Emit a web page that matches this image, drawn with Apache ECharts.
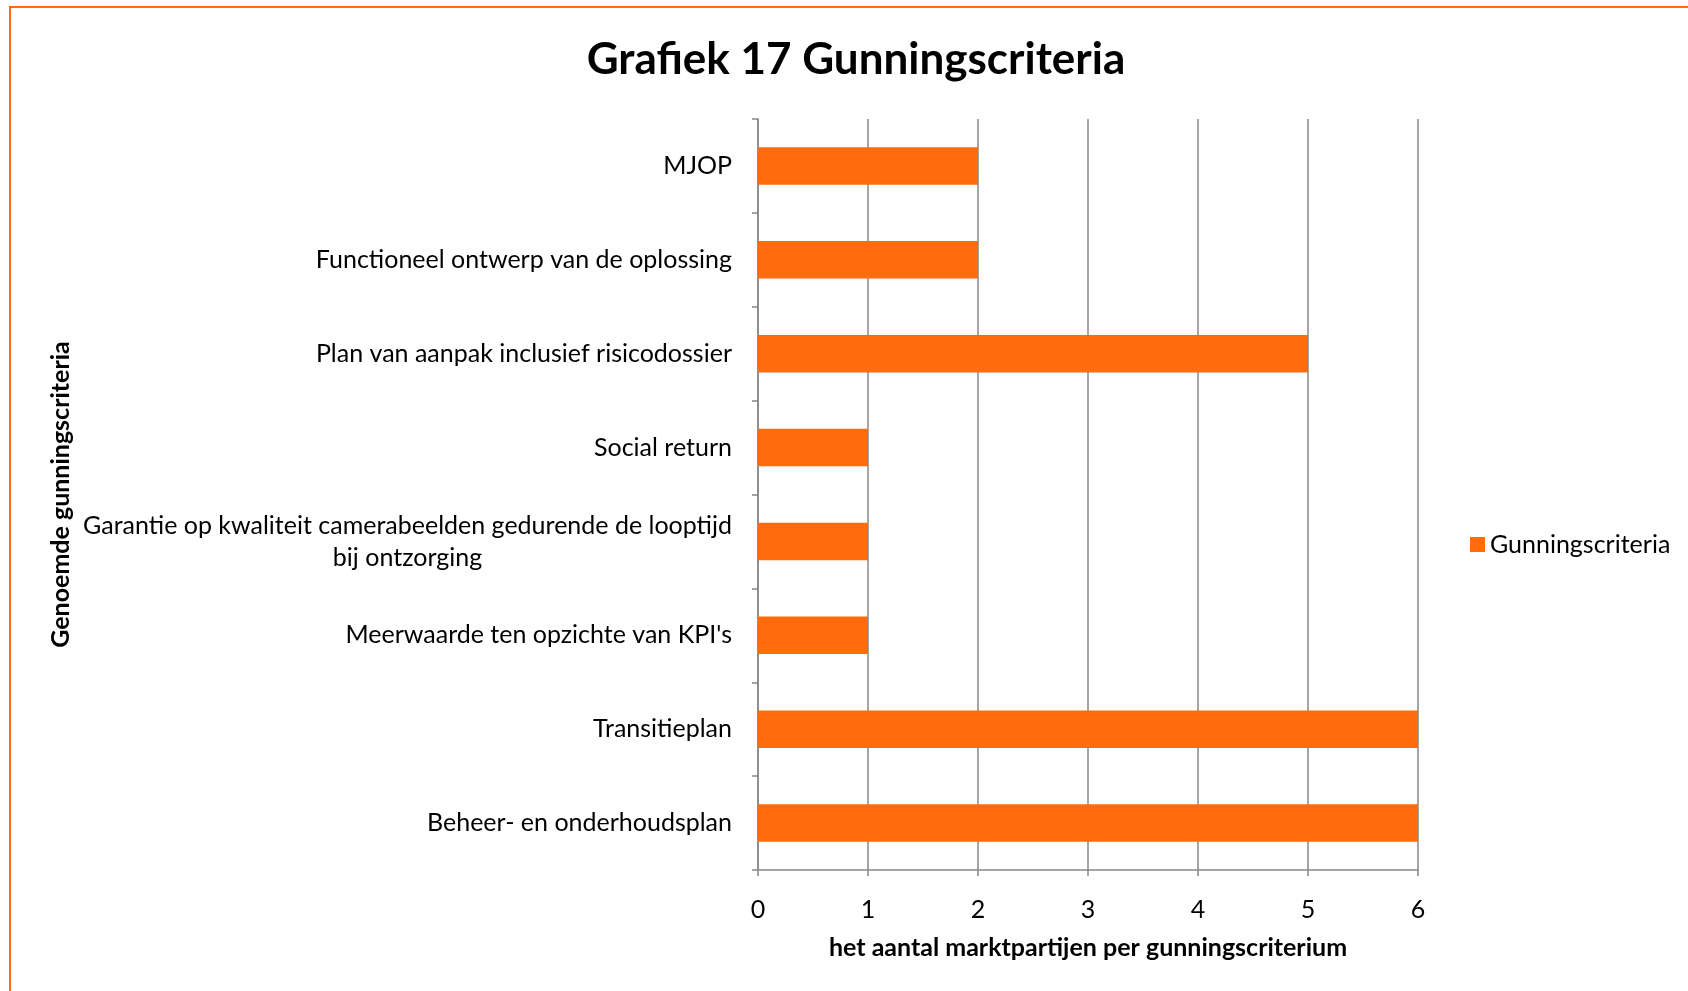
<!DOCTYPE html>
<html>
<head>
<meta charset="utf-8">
<title>Grafiek 17 Gunningscriteria</title>
<script src="https://cdn.jsdelivr.net/npm/echarts@6/dist/echarts.min.js"></script>
<style>
html, body { margin: 0; padding: 0; background: #fff; }
#chart { width: 1688px; height: 991px; }
</style>
</head>
<body>
<div id="chart"></div>
<script>
// categories listed top to bottom as in the chart
const categories = [
    'MJOP',
    'Functioneel ontwerp van de oplossing',
    'Plan van aanpak inclusief risicodossier',
    'Social return',
    'Garantie op kwaliteit camerabeelden gedurende de looptijd\nbij ontzorging',
    "Meerwaarde ten opzichte van KPI's",
    'Transitieplan',
    'Beheer- en onderhoudsplan'
]
const counts = [2, 2, 5, 1, 1, 1, 6, 6]
const seriesName = 'Gunningscriteria'

const orange = '#FF6B0D'
const gray = '#888888'
const font = 'Lato, "Open Sans", sans-serif'

const chart = echarts.init(document.getElementById('chart'))
chart.setOption({
    animation: false,
    textStyle: { fontFamily: font, color: '#000' },
    title: {
        text: 'Grafiek 17 Gunningscriteria',
        left: 851,
        textAlign: 'center',
        top: 33,
        textStyle: { fontFamily: font, fontSize: 44, fontWeight: 'bold', color: '#000' }
    },
    graphic: [{
        type: 'rect',
        shape: { x: 10, y: 7, width: 1700, height: 1000 },
        style: { fill: 'none', stroke: orange, lineWidth: 2 },
        silent: true
    }],
    legend: {
        data: [seriesName],
        left: 1465,
        top: 527,
        icon: 'rect',
        itemWidth: 15,
        itemHeight: 15,
        textStyle: { fontFamily: font, fontSize: 25, color: '#000' }
    },
    grid: {
        left: 758,
        right: 270,
        top: 119,
        bottom: 121,
        containLabel: false
    },
    xAxis: {
        type: 'value',
        min: 0,
        max: 6,
        interval: 1,
        name: 'het aantal marktpartijen per gunningscriterium',
        nameLocation: 'middle',
        nameGap: 65,
        nameTextStyle: { fontFamily: font, fontSize: 25, fontWeight: 'bold', color: '#000' },
        axisLine: { show: true, lineStyle: { color: gray, width: 1.5 } },
        axisTick: { show: true, length: 6, lineStyle: { color: gray, width: 1.5 } },
        axisLabel: { margin: 27, fontFamily: font, fontSize: 25, color: '#000' },
        splitLine: { show: true, lineStyle: { color: gray, width: 1.5 } }
    },
    yAxis: {
        type: 'category',
        data: categories,
        inverse: true,
        name: 'Genoemde gunningscriteria',
        nameLocation: 'middle',
        nameGap: 685,
        nameTextStyle: { fontFamily: font, fontSize: 25, fontWeight: 'bold', color: '#000' },
        axisLine: { show: true, lineStyle: { color: gray, width: 1.5 } },
        axisTick: { show: true, length: 6, lineStyle: { color: gray, width: 1.5 } },
        axisLabel: {
            margin: 26,
            fontFamily: font,
            fontSize: 25,
            color: '#000',
            lineHeight: 32,
            // multi-line labels are centred line by line
            formatter: function (val) {
                return val.split('\n').map(function (s) { return '{c|' + s + '}' }).join('\n')
            },
            rich: {
                c: { align: 'center', fontFamily: font, fontSize: 25, color: '#000', lineHeight: 32 }
            }
        }
    },
    series: [{
        name: seriesName,
        type: 'bar',
        data: counts,
        barWidth: '40%',
        itemStyle: { color: orange }
    }]
})
</script>
</body>
</html>
